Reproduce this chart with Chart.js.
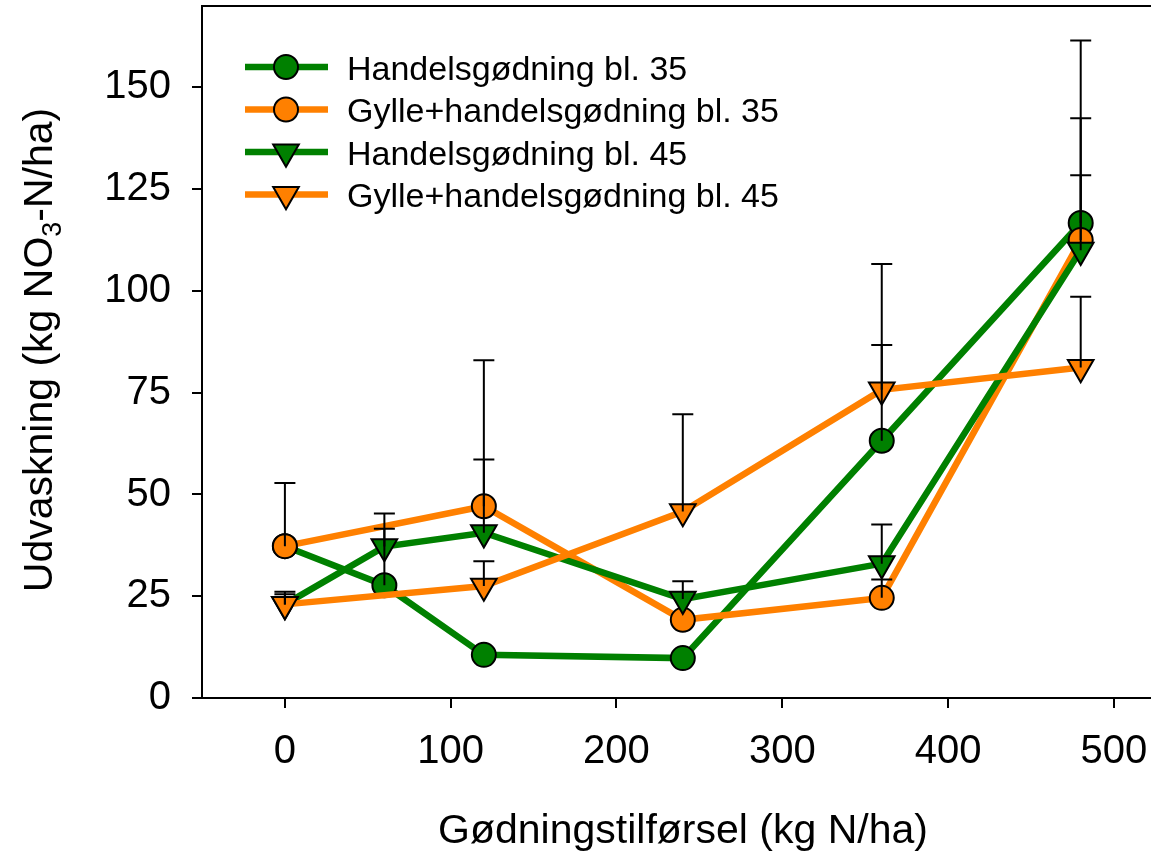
<!DOCTYPE html>
<html><head><meta charset="utf-8">
<script src="https://cdn.jsdelivr.net/npm/chart.js@4.4.1/dist/chart.umd.min.js"></script>
<style>html,body{margin:0;padding:0;background:#fff;overflow:hidden}</style>
</head><body>
<canvas id="c" width="1151" height="854"></canvas>
<script>
// ---- data ----
const seriesNames = ['Handelsgødning bl. 35', 'Gylle+handelsgødning bl. 35', 'Handelsgødning bl. 45', 'Gylle+handelsgødning bl. 45'];
const h35X   = [0, 60, 120, 240, 360, 480];
const h35    = [37.3, 27.7, 10.6, 9.8, 63.2, 116.7];
const h35Err = [null, 13.9, null, null, 43.4, 44.8];
const g35X   = [0, 120, 240, 360, 480];
const g35    = [37.3, 47.1, 19.2, 24.6, 112.5];
const g35Err = [15.5, 35.9, null, 4.5, 29.9];
const h45X   = [0, 60, 120, 240, 360, 480];
const h45    = [23.0, 37.2, 40.6, 24.3, 33.0, 110.0];
const h45Err = [2.5, 8.1, 18.0, 4.4, 9.6, 18.4];
const g45X   = [0, 120, 240, 360, 480];
const g45    = [23.0, 27.5, 45.8, 75.7, 81.2];
const g45Err = [3.1, 6.1, 23.9, 11.0, 17.4];
const xTicks = [0, 100, 200, 300, 400, 500];
const yTicks = [0, 25, 50, 75, 100, 125, 150];
const xTitle = 'Gødningstilførsel (kg N/ha)';
const yTitleParts = ['Udvaskning (kg NO', '3', '-N/ha)'];

const GREEN = '#008000', ORANGE = '#FF8000';
const FONT = '"Liberation Sans", Arial, Helvetica, sans-serif';

function mk(label, xs, ys, errs, color, style, order) {
  const tri = style === 'triangle';
  return {
    label, order, errs,
    data: xs.map((x, i) => ({ x, y: ys[i] })),
    borderColor: color, backgroundColor: color, borderWidth: 6.5,
    pointStyle: style, rotation: tri ? 180 : 0,
    pointRadius: tri ? 14.8 : 12, pointHoverRadius: tri ? 14.8 : 12,
    pointBorderColor: '#000', pointBackgroundColor: color, pointBorderWidth: 2,
    tension: 0
  };
}

const datasets = [
  mk(seriesNames[0], h35X, h35, h35Err, GREEN, 'circle', 4),
  mk(seriesNames[1], g35X, g35, g35Err, ORANGE, 'circle', 3),
  mk(seriesNames[2], h45X, h45, h45Err, GREEN, 'triangle', 2),
  mk(seriesNames[3], g45X, g45, g45Err, ORANGE, 'triangle', 1)
];

function zeroPad(s) { s.paddingTop = 0; s.paddingBottom = 0; s.paddingLeft = 0; s.paddingRight = 0; }

const decor = {
  id: 'decor',
  afterDatasetsDraw(chart) {
    const ctx = chart.ctx, xs = chart.scales.x, ys = chart.scales.y;
    ctx.save();
    ctx.strokeStyle = '#000'; ctx.lineWidth = 2;
    chart.data.datasets.forEach(ds => {
      ds.data.forEach((p, i) => {
        const e = ds.errs[i];
        if (e == null) return;
        const px = xs.getPixelForValue(p.x);
        const y0 = ys.getPixelForValue(p.y), y1 = ys.getPixelForValue(p.y + e);
        ctx.beginPath(); ctx.moveTo(px, y0); ctx.lineTo(px, y1);
        ctx.moveTo(px - 10.5, y1); ctx.lineTo(px + 10.5, y1); ctx.stroke();
      });
    });
    ctx.restore();
  },
  afterDraw(chart) {
    const ctx = chart.ctx, a = chart.chartArea;
    ctx.save();
    ctx.strokeStyle = '#000'; ctx.lineWidth = 2;
    ctx.beginPath(); ctx.moveTo(a.left - 1, a.top); ctx.lineTo(a.right, a.top);
    ctx.moveTo(a.left - 10, a.bottom); ctx.lineTo(a.left, a.bottom); ctx.stroke();
    chart.data.datasets.forEach((ds, i) => {
      const ry = a.top + 61 + i * 42.5;
      ctx.strokeStyle = ds.borderColor; ctx.lineWidth = 6.5;
      ctx.beginPath(); ctx.moveTo(a.left + 43, ry); ctx.lineTo(a.left + 126, ry); ctx.stroke();
      ctx.fillStyle = ds.pointBackgroundColor; ctx.strokeStyle = '#000'; ctx.lineWidth = ds.pointBorderWidth;
      Chart.helpers.drawPoint(ctx, { pointStyle: ds.pointStyle, rotation: ds.rotation, radius: ds.pointRadius, borderWidth: ds.pointBorderWidth }, a.left + 84, ry);
      ctx.fillStyle = '#000'; ctx.font = '34px ' + FONT; ctx.textAlign = 'left'; ctx.textBaseline = 'alphabetic';
      ctx.fillText(ds.label, a.left + 145, ry + 12.5);
    });
    ctx.font = '41px ' + FONT; ctx.textAlign = 'center'; ctx.fillStyle = '#000';
    ctx.fillText(xTitle, a.left + 481, a.bottom + 145);
    ctx.translate(52, (a.top + a.bottom) / 2 - 2);
    ctx.rotate(-Math.PI / 2);
    ctx.textAlign = 'left';
    const big = '41px ' + FONT, small = '27px ' + FONT;
    ctx.font = big; const w1 = ctx.measureText(yTitleParts[0]).width, w3 = ctx.measureText(yTitleParts[2]).width;
    ctx.font = small; const w2 = ctx.measureText(yTitleParts[1]).width;
    let sx = -(w1 + w2 + w3) / 2;
    ctx.font = big; ctx.fillText(yTitleParts[0], sx, 0); sx += w1;
    ctx.font = small; ctx.fillText(yTitleParts[1], sx, 9); sx += w2;
    ctx.font = big; ctx.fillText(yTitleParts[2], sx, 0);
    ctx.restore();
  }
};

new Chart(document.getElementById('c'), {
  type: 'line',
  data: { datasets },
  options: {
    responsive: false, animation: false, devicePixelRatio: 1,
    layout: { autoPadding: false, padding: { top: 6, right: 0, left: 0, bottom: 0 } },
    plugins: { legend: { display: false }, tooltip: { enabled: false } },
    scales: {
      x: {
        type: 'linear', min: -50, max: 522.4,
        afterFit: s => { s.height = 156; zeroPad(s); },
        afterBuildTicks: s => { s.ticks = xTicks.map(v => ({ value: v })); },
        ticks: { font: { family: FONT, size: 40 }, color: '#000', padding: 20, maxRotation: 0, autoSkip: false },
        grid: { drawOnChartArea: false, tickLength: 10, color: '#000', lineWidth: 2 },
        border: { color: '#000', width: 2 }
      },
      y: {
        type: 'linear', min: 0, max: 170,
        afterFit: s => { s.width = 202; zeroPad(s); },
        afterBuildTicks: s => { s.ticks = yTicks.map(v => ({ value: v })); },
        ticks: { font: { family: FONT, size: 40 }, color: '#000', padding: 21, autoSkip: false },
        grid: { drawOnChartArea: false, tickLength: 10, color: '#000', lineWidth: 2 },
        border: { color: '#000', width: 2 }
      }
    }
  },
  plugins: [decor]
});
</script>
</body></html>
